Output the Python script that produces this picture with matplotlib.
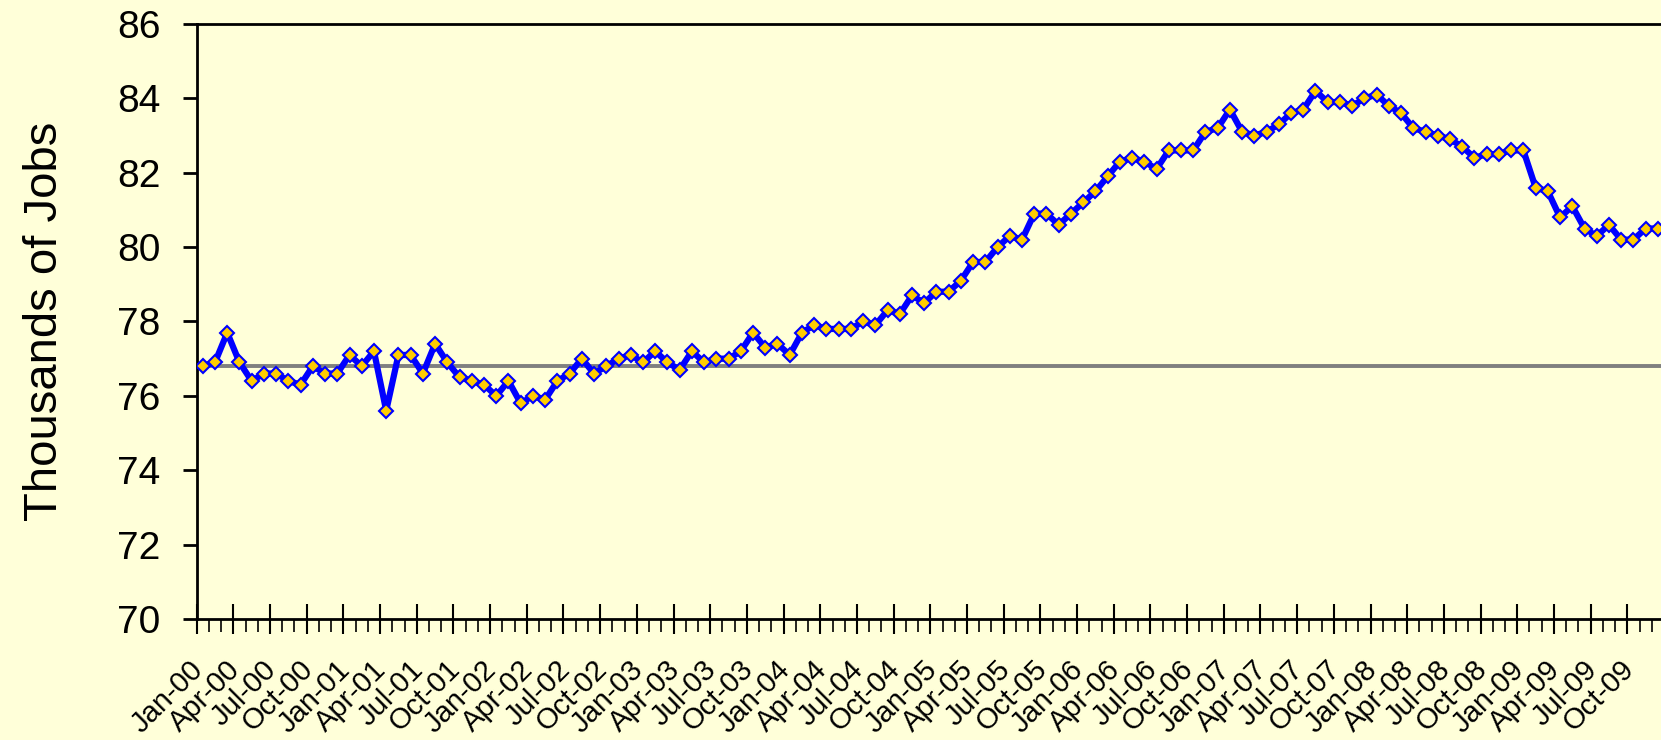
import matplotlib
matplotlib.use("Agg")
import matplotlib.pyplot as plt
import numpy as np

# =============================================================================
# DATA
# =============================================================================

months = ["Jan", "Feb", "Mar", "Apr", "May", "Jun",
          "Jul", "Aug", "Sep", "Oct", "Nov", "Dec"]
years = ["00", "01", "02", "03", "04", "05", "06", "07", "08", "09"]
categories = [f"{m}-{y}" for y in years for m in months]

jobs = [
    # 2000
    76.8, 76.9, 77.7, 76.9, 76.4, 76.6, 76.6, 76.4, 76.3, 76.8, 76.6, 76.6,
    # 2001
    77.1, 76.8, 77.2, 75.6, 77.1, 77.1, 76.6, 77.4, 76.9, 76.5, 76.4, 76.3,
    # 2002
    76.0, 76.4, 75.8, 76.0, 75.9, 76.4, 76.6, 77.0, 76.6, 76.8, 77.0, 77.1,
    # 2003
    76.9, 77.2, 76.9, 76.7, 77.2, 76.9, 77.0, 77.0, 77.2, 77.7, 77.3, 77.4,
    # 2004
    77.1, 77.7, 77.9, 77.8, 77.8, 77.8, 78.0, 77.9, 78.3, 78.2, 78.7, 78.5,
    # 2005
    78.8, 78.8, 79.1, 79.6, 79.6, 80.0, 80.3, 80.2, 80.9, 80.9, 80.6, 80.9,
    # 2006
    81.2, 81.5, 81.9, 82.3, 82.4, 82.3, 82.1, 82.6, 82.6, 82.6, 83.1, 83.2,
    # 2007
    83.7, 83.1, 83.0, 83.1, 83.3, 83.6, 83.7, 84.2, 83.9, 83.9, 83.8, 84.0,
    # 2008
    84.1, 83.8, 83.6, 83.2, 83.1, 83.0, 82.9, 82.7, 82.4, 82.5, 82.5, 82.6,
    # 2009
    82.6, 81.6, 81.5, 80.8, 81.1, 80.5, 80.3, 80.6, 80.2, 80.2, 80.5, 80.5,
]

baseline = 76.8
y_ticks = [70, 72, 74, 76, 78, 80, 82, 84, 86]

# =============================================================================
# PLOT
# =============================================================================

plt.rcParams["font.family"] = ["Liberation Sans", "DejaVu Sans"]

bg = "#FFFFD9"
fig = plt.figure(figsize=(16.61, 7.40), dpi=100, facecolor=bg)
ax = fig.add_axes([0.1184, 0.1635, 0.8834, 0.8041], facecolor=bg)

x = np.arange(len(jobs))
ax.axhline(baseline, color="#808080", lw=2.8, zorder=2)
ax.plot(x, jobs, color="#0000FF", lw=4.5, marker="D", ms=7,
        mfc="#FFCC00", mec="#0000FF", mew=1.5, zorder=3)

ax.set_xlim(-0.5, len(jobs) - 0.5)
ax.set_ylim(70, 86)
ax.set_yticks(y_ticks)
ax.tick_params(axis="y", labelsize=28, length=10, width=2, direction="out",
               pad=16)

# ticks on category boundaries, labels every third month
ax.set_xticks(np.arange(-0.5, len(jobs), 3))
ax.set_xticks(np.arange(-0.5, len(jobs), 1), minor=True)
ax.tick_params(axis="x", which="major", length=22, width=1.5,
               direction="inout", labelbottom=False)
ax.tick_params(axis="x", which="minor", length=9, width=1.2,
               direction="out")
for i in range(0, len(jobs), 3):
    ax.annotate(categories[i], xy=(i, 0), xycoords=("data", "axes fraction"),
                xytext=(-10, -26), textcoords="offset points", fontsize=21,
                rotation=45, ha="right", va="top", rotation_mode="anchor")

ax.set_ylabel("Thousands of Jobs", fontsize=34, labelpad=36)

for side in ["left", "bottom", "top"]:
    ax.spines[side].set_linewidth(2)
    ax.spines[side].set_color("black")
ax.spines["right"].set_visible(False)

fig.savefig("out.png", dpi=100, facecolor=bg)
